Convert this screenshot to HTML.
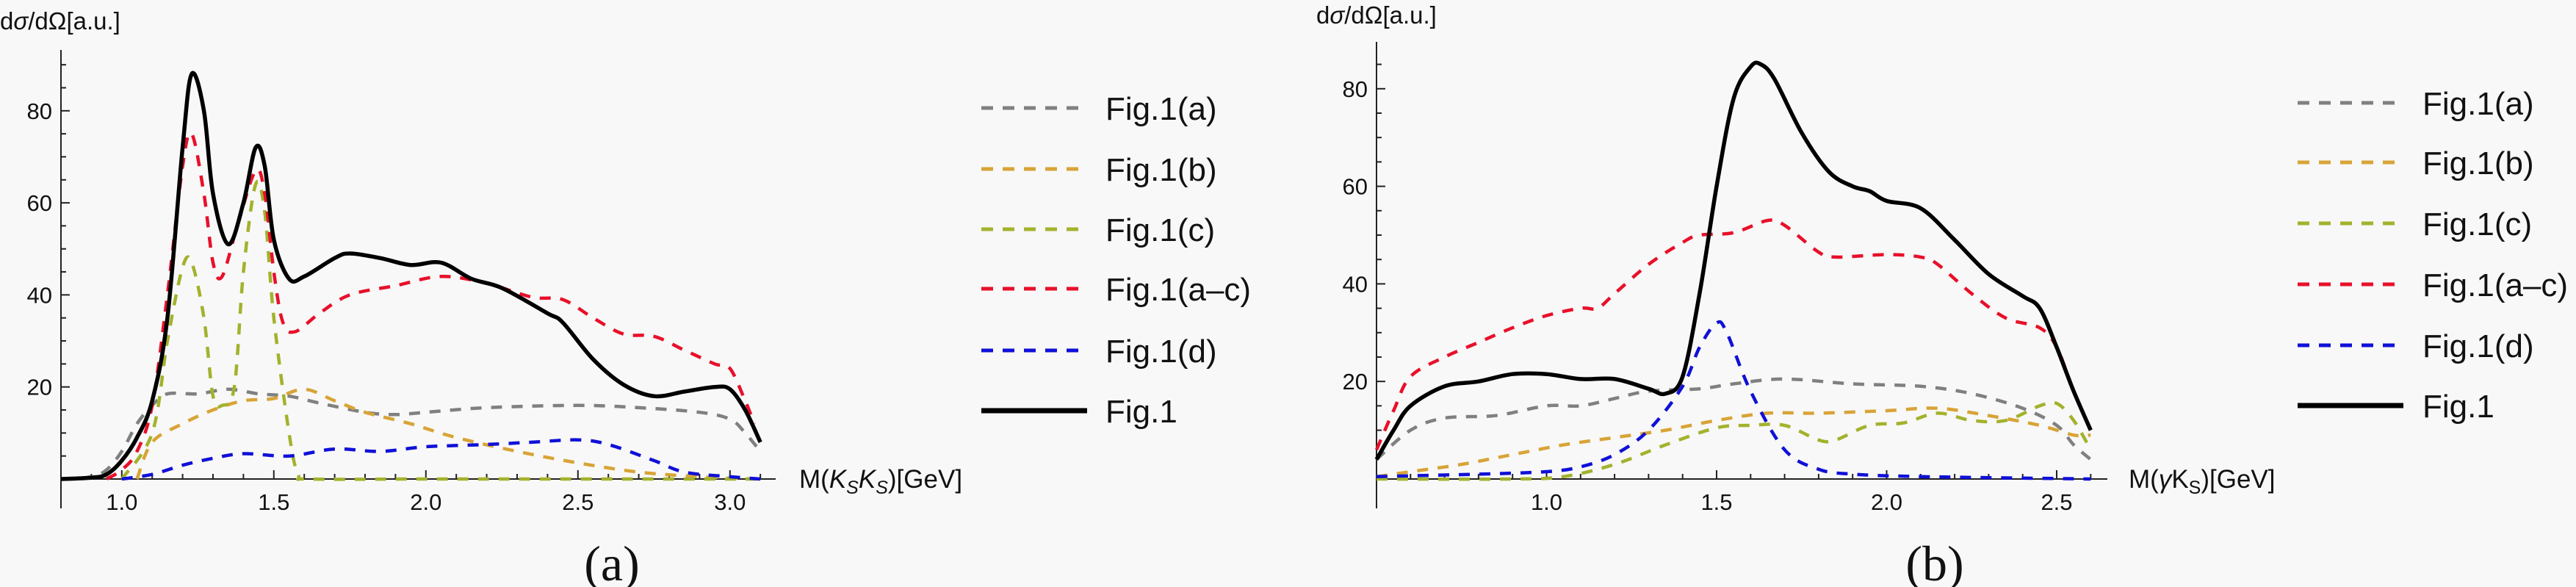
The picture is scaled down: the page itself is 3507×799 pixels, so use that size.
<!DOCTYPE html>
<html><head><meta charset="utf-8">
<style>
html,body{margin:0;padding:0;background:#f8f8f8;}
body{width:3507px;height:799px;overflow:hidden;}
svg{display:block;font-family:"Liberation Sans",sans-serif;}
</style></head>
<body>
<svg id="fig" width="3507" height="799" viewBox="0 0 3507 799">
<rect x="0" y="0" width="3507" height="799" fill="#f8f8f8"/>
</svg>
<script>
// ---------- Panel (a) data ----------
const aBlackX=[0.8,0.9,0.95,1.0,1.05,1.1,1.15,1.2,1.23,1.27,1.3,1.35,1.4,1.44,1.47,1.5,1.55,1.6,1.7,1.75,1.85,1.95,2.05,2.15,2.25,2.4,2.45,2.55,2.65,2.75,2.85,2.95,3.0,3.05,3.1];
const aBlackY=[0,0.3,1,4,9,17,35,72,88,80,62,51,60,72,68,52,43.5,44,48,49,48,46.5,47,43.5,41.5,36,34,26,20.5,18,19,20,19.5,15,8];
const aRedX=[0.95,1.0,1.05,1.1,1.15,1.2,1.23,1.27,1.3,1.33,1.38,1.44,1.47,1.5,1.53,1.57,1.65,1.75,1.9,2.05,2.2,2.35,2.45,2.55,2.65,2.75,2.85,2.95,3.0,3.05,3.08];
const aRedY=[0,2,6,16,40,68,75,62,47,44,55,67,62,45,34,32,36,40,42,44,42.5,39.5,39,35,31.5,31,28,25,24,17,12];
const aGrayX=[0.8,0.9,0.95,1.0,1.05,1.1,1.15,1.25,1.35,1.45,1.55,1.65,1.8,1.9,2.0,2.2,2.5,2.7,2.9,3.0,3.05,3.1];
const aGrayY=[0,0.5,2,6,12,16,18.5,18.5,19.5,18.5,18,16.5,14.5,14,14.5,15.5,16,15.5,14.5,13,10,6];
const aOrangeX=[1.05,1.1,1.2,1.3,1.4,1.5,1.6,1.7,1.8,1.95,2.1,2.3,2.5,2.7,2.9,3.1];
const aOrangeY=[0,8,12,15,17,17.5,19.5,17,14.5,12,9,6,3.5,1.5,0.5,0];
const aGreenX=[1.0,1.1,1.15,1.2,1.23,1.27,1.3,1.33,1.37,1.4,1.44,1.47,1.5,1.55,1.58,1.62,2.0,2.5,3.1];
const aGreenY=[0,10,30,46,47,35,18,16,20,45,64,58,35,10,1,0,0,0,0];
const aBlueX=[1.0,1.1,1.2,1.3,1.4,1.55,1.7,1.85,2.0,2.2,2.35,2.5,2.6,2.75,2.85,3.0,3.1];
const aBlueY=[0,1,3,4.5,5.5,5,6.5,6,7,7.5,8,8.5,7.5,4,1.5,0.5,0];
const aXTicks=["1.0","1.5","2.0","2.5","3.0"];
const aYTicks=["20","40","60","80"];

// ---------- Panel (b) data ----------
const bBlackX=[0.5,0.55,0.6,0.7,0.8,0.9,1.0,1.1,1.2,1.3,1.35,1.4,1.45,1.5,1.55,1.6,1.63,1.67,1.75,1.83,1.9,1.95,2.0,2.1,2.2,2.3,2.4,2.45,2.5,2.55,2.6];
const bBlackY=[4,10,15,19,20,21.5,21.5,20.5,20.5,18.5,17.5,21,38,60,78,84.5,85,82,71,63,60,59,57,55.5,49,42,37.5,35,27,18,10];
const bRedX=[0.5,0.55,0.6,0.7,0.8,0.9,1.0,1.1,1.15,1.2,1.3,1.4,1.45,1.55,1.65,1.7,1.8,1.85,2.0,2.1,2.15,2.25,2.35,2.45,2.5,2.55,2.6];
const bRedY=[6,14,21,25,28,31,33.5,35,35,38,44,48.5,50,50.5,53,52,46.5,45.5,46,45.5,44,38,33,31,27,18,10];
const bGrayX=[0.5,0.6,0.7,0.85,1.0,1.1,1.2,1.3,1.45,1.55,1.7,1.9,2.1,2.25,2.4,2.5,2.55,2.6];
const bGrayY=[4,10,12.5,13,15,15,16.5,18,18.5,19.5,20.5,19.5,19,17.5,14.5,11,7,4];
const bOrangeX=[0.5,0.6,0.75,0.9,1.05,1.2,1.35,1.5,1.65,1.8,2.0,2.15,2.3,2.45,2.55,2.6];
const bOrangeY=[0.5,1.5,3,5,7,8.5,10,12,13.5,13.5,14,14.5,13,11,9,9];
const bGreenX=[0.5,0.9,1.05,1.2,1.35,1.5,1.6,1.7,1.8,1.85,1.95,2.05,2.15,2.25,2.35,2.45,2.5,2.55,2.6];
const bGreenY=[0,0,0.5,3,7,10.5,11,11,8,8,11,11.5,13.5,12,12,15,15.5,12,6];
const bBlueX=[0.5,0.8,1.0,1.1,1.2,1.3,1.4,1.45,1.5,1.53,1.6,1.7,1.8,1.9,2.1,2.6];
const bBlueY=[0.5,1,1.5,2.5,5,10,19,27,32,30,18,6,2,1,0.5,0];
const bXTicks=["1.0","1.5","2.0","2.5"];
const bYTicks=["20","40","60","80"];

const legendLabels=["Fig.1(a)","Fig.1(b)","Fig.1(c)","Fig.1(a\u2013c)","Fig.1(d)","Fig.1"];

const NS="http://www.w3.org/2000/svg";
const svg=document.getElementById("fig");
function mk(tag,attrs,parent){const e=document.createElementNS(NS,tag);for(const k in attrs)e.setAttribute(k,attrs[k]);(parent||svg).appendChild(e);return e;}

function smoothPath(pts){
  let d="M"+pts[0][0].toFixed(1)+","+pts[0][1].toFixed(1);
  for(let i=0;i<pts.length-1;i++){
    const p0=pts[i-1]||pts[i],p1=pts[i],p2=pts[i+1],p3=pts[i+2]||pts[i+1];
    const c1x=p1[0]+(p2[0]-p0[0])/6,c1y=p1[1]+(p2[1]-p0[1])/6;
    const c2x=p2[0]-(p3[0]-p1[0])/6,c2y=p2[1]-(p3[1]-p1[1])/6;
    d+=" C"+c1x.toFixed(1)+","+c1y.toFixed(1)+" "+c2x.toFixed(1)+","+c2y.toFixed(1)+" "+p2[0].toFixed(1)+","+p2[1].toFixed(1);
  }
  return d;
}

function panel(cfg){
  const g=mk("g",{});
  
  
  const sx=v=>cfg.x0px+(v-cfg.xmin)*cfg.pxPerX;
  const sy=v=>cfg.y0px-v*cfg.pxPerY;
  // axes
  const ya=mk("line",{x1:cfg.axX,y1:cfg.axTop,x2:cfg.axX,y2:cfg.y0px+40,stroke:"#222","stroke-width":2},g);
  
  
  const xa=mk("line",{x1:cfg.axX,y1:cfg.y0px,x2:cfg.axRight,y2:cfg.y0px,stroke:"#222","stroke-width":2},g);
  
  
  // y minor/major ticks
  for(let v=5;sy(v)>cfg.axTop;v+=5){
    const major=v%20===0;
    const t=mk("line",{x1:cfg.axX,y1:sy(v),x2:cfg.axX+(major?12:7),y2:sy(v),stroke:"#222","stroke-width":2},g);
    
    
  }
  cfg.yTicks.forEach(s=>{
    const t=mk("text",{x:cfg.axX-12,y:sy(+s)+11,"text-anchor":"end","font-size":31,fill:"#111"},g);
    t.textContent=s;
    
    
  });
  // x ticks every 0.1
  for(let k=Math.ceil(cfg.xmin*10+0.01);k/10<cfg.xmaxAxis;k++){
    const v=k/10, major=k%5===0;
    const t=mk("line",{x1:sx(v),y1:cfg.y0px,x2:sx(v),y2:cfg.y0px-(major?12:7),stroke:"#222","stroke-width":2},g);
    
    
  }
  cfg.xTicks.forEach(s=>{
    const t=mk("text",{x:sx(+s),y:cfg.y0px+42,"text-anchor":"middle","font-size":31,fill:"#111"},g);
    t.textContent=s;
    
    
  });
  // series
  cfg.series.forEach(s=>{
    const pts=s.x.map((xv,i)=>[sx(xv),sy(s.y[i])]);
    const p=mk("path",{d:smoothPath(pts),fill:"none",stroke:s.color,"stroke-width":s.dash?4.5:5.5,"stroke-dasharray":s.dash?"15,13":"none","stroke-linejoin":"round"},g);
    
    
  });
  // titles
  const yt=mk("text",{x:cfg.ytX,y:cfg.ytY,"font-size":33,fill:"#111"},g);
  yt.innerHTML='d<tspan font-style="italic">σ</tspan>/dΩ[a.u.]';
  
  
  const xt=mk("text",{x:cfg.xtX,y:cfg.y0px+12,"font-size":35,fill:"#111"},g);
  xt.innerHTML=cfg.xtitle;
  
  
  const cap=mk("text",{x:cfg.capX,y:790,"text-anchor":"middle","font-size":68,"font-family":"Liberation Serif, serif",fill:"#111"},g);
  cap.textContent=cfg.cap;
  
  
  // legend
  cfg.series.forEach((s,i)=>{
    const yy=cfg.legY[i];
    const l=mk("line",{x1:cfg.legX1,y1:yy,x2:cfg.legX2,y2:yy,stroke:s.color,"stroke-width":s.dash?5:7,"stroke-dasharray":s.dash?"16,13":"none"},g);
    
    
    const t=mk("text",{x:cfg.legTX,y:yy+16,"font-size":44,fill:"#111"},g);
    t.textContent=legendLabels[i];
    
    
  });
}

const cA="#808080",cB="#d8a437",cC="#a3b22c",cR="#e8102a",cD="#1010d8",cK="#000";
panel({name:"panel-a",xmin:0.8,x0px:83,pxPerX:414,y0px:652,pxPerY:6.265,axX:83,axTop:68,axRight:1056,xmaxAxis:3.15,
  xTicks:aXTicks,yTicks:aYTicks,ytX:0,ytY:40,xtX:1088,capX:833,cap:"(a)",
  xtitle:'M(<tspan font-style="italic">K</tspan><tspan font-style="italic" font-size="25" dy="8">S</tspan><tspan font-style="italic" dy="-8">K</tspan><tspan font-style="italic" font-size="25" dy="8">S</tspan><tspan dy="-8">)[GeV]</tspan>',
  legX1:1336,legX2:1480,legTX:1505,legY:[147,230,312,393,477,559],
  series:[
    {name:"series-fig1a",x:aGrayX,y:aGrayY,color:cA,dash:true},
    {name:"series-fig1b",x:aOrangeX,y:aOrangeY,color:cB,dash:true},
    {name:"series-fig1c",x:aGreenX,y:aGreenY,color:cC,dash:true},
    {name:"series-fig1a-c",x:aRedX,y:aRedY,color:cR,dash:true},
    {name:"series-fig1d",x:aBlueX,y:aBlueY,color:cD,dash:true},
    {name:"series-fig1",x:aBlackX,y:aBlackY,color:cK,dash:false}
  ]});
panel({name:"panel-b",xmin:0.5,x0px:1874,pxPerX:463,y0px:652,pxPerY:6.64,axX:1874,axTop:57,axRight:2869,xmaxAxis:2.65,
  xTicks:bXTicks,yTicks:bYTicks,ytX:1792,ytY:32,xtX:2898,capX:2634,cap:"(b)",
  xtitle:'M(<tspan font-style="italic">γ</tspan>K<tspan font-size="25" dy="8">S</tspan><tspan dy="-8">)[GeV]</tspan>',
  legX1:3128,legX2:3272,legTX:3298,legY:[140,221,304,387,470,552],
  series:[
    {name:"series-fig1a",x:bGrayX,y:bGrayY,color:cA,dash:true},
    {name:"series-fig1b",x:bOrangeX,y:bOrangeY,color:cB,dash:true},
    {name:"series-fig1c",x:bGreenX,y:bGreenY,color:cC,dash:true},
    {name:"series-fig1a-c",x:bRedX,y:bRedY,color:cR,dash:true},
    {name:"series-fig1d",x:bBlueX,y:bBlueY,color:cD,dash:true},
    {name:"series-fig1",x:bBlackX,y:bBlackY,color:cK,dash:false}
  ]});
</script>
</body></html>
